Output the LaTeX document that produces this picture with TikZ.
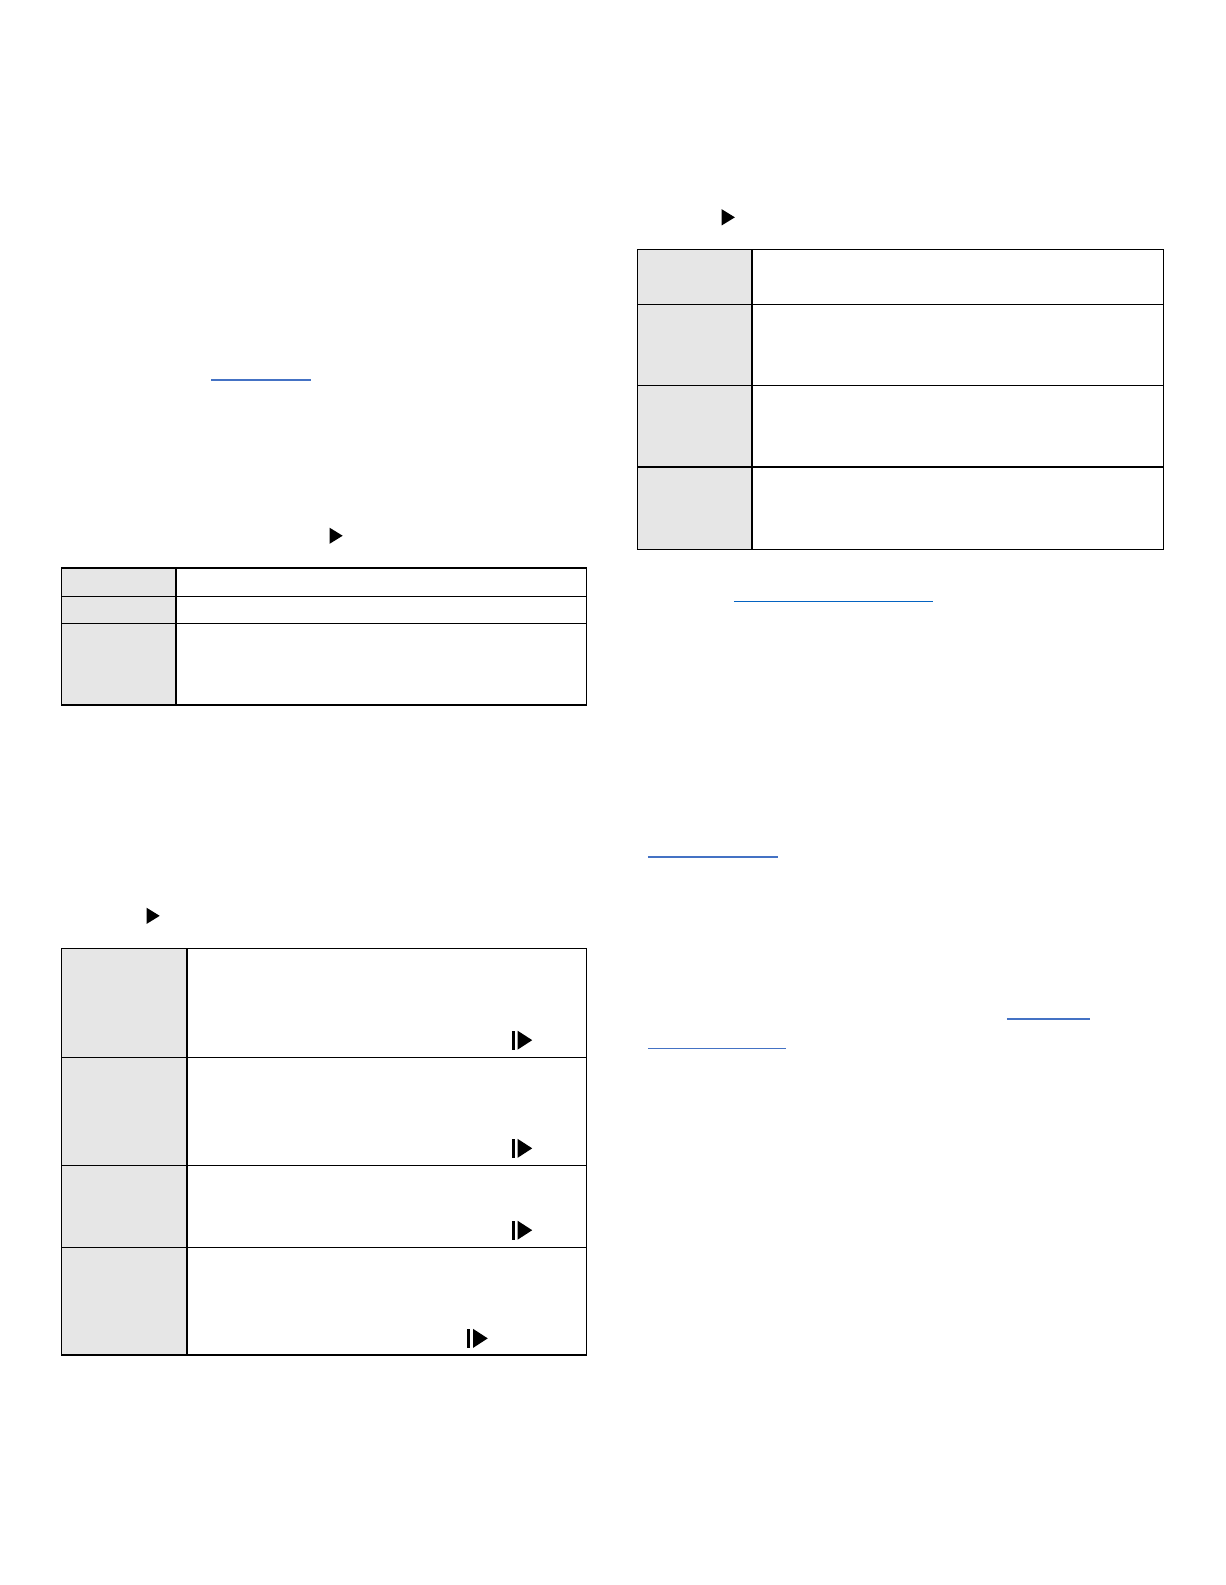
\documentclass[tikz,border=0pt]{standalone}
\tikzset{
  grid/.style={draw=black,line width=1.25pt},
  shade/.style={fill=cellgray},
  play/.style={fill=black,draw=none},
  link/.style={draw=linkblue,line width=2pt},
  linkthin/.style={draw=linkblue,line width=1.2pt},
}
\definecolor{cellgray}{HTML}{E6E6E6}
\definecolor{linkblue}{HTML}{4472C4}
\definecolor{linkdark}{HTML}{0563C1}
\newcommand{\playtri}[2]{\fill[play] (#1,#2-8) -- (#1+13,#2) -- (#1,#2+8) -- cycle;}
\newcommand{\playbar}[2]{\fill[play] (#1+0.4,#2-9.4) rectangle (#1+3.2,#2+9.4);
  \fill[play] (#1+6,#2-9.4) -- (#1+20.5,#2) -- (#1+6,#2+9.4) -- cycle;}
\begin{document}
\begin{tikzpicture}[x=1.0108pt,y=-1.0108pt]
\useasboundingbox[fill=white] (0,0) rectangle (1211.9,1568);
% table 1
\fill[shade] (61,562) rectangle (174,697.5);
\draw[grid] (61,562) rectangle (580,697.5);
\draw[grid] (174,562) -- (174,697.5);
\draw[grid] (61,590) -- (580,590);
\draw[grid] (61,617) -- (580,617);
% table 2
\fill[shade] (61,938) rectangle (185,1340.5);
\draw[grid] (61,938) rectangle (580,1340.5);
\draw[grid] (185,938) -- (185,1340.5);
\draw[grid] (61,1046) -- (580,1046);
\draw[grid] (61,1153) -- (580,1153);
\draw[grid] (61,1234) -- (580,1234);
% table 3
\fill[shade] (631,247) rectangle (744,543.5);
\draw[grid] (631,247) rectangle (1151,543.5);
\draw[grid] (744,247) -- (744,543.5);
\draw[grid] (631,301) -- (1151,301);
\draw[grid] (631,381) -- (1151,381);
\draw[grid] (631,462) -- (1151,462);
% play icons
\playtri{326}{530}
\playtri{145}{906}
\playtri{714}{215}
\playbar{506}{1029}
\playbar{506}{1136}
\playbar{506}{1217}
\playbar{462}{1324}
% link underlines
\draw[link] (209,375.5) -- (308,375.5);
\draw[draw=linkdark,line width=1.2pt] (726,595) -- (923,595);
\draw[link] (641,848) -- (770,848);
\draw[linkthin] (996,1008) -- (1078,1008);
\draw[linkthin] (641,1037) -- (778,1037);
\end{tikzpicture}
\end{document}
